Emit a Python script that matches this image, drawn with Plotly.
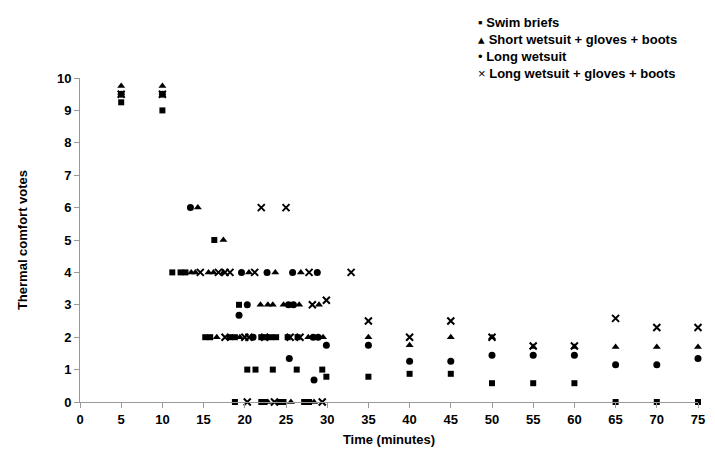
import plotly.graph_objects as go

# Swim briefs
swim_t = [5, 10, 16.3, 11.2, 12.2, 12.8, 19.3, 15.2, 15.8, 18.2, 18.8, 22.0, 22.6, 23.2, 23.8, 25.2, 26.4,
          20.3, 21.3, 23.4, 26.3, 29.4, 29.9, 18.8, 22.0, 22.4, 24.2, 24.7, 27.2, 27.8,
          35, 40, 45, 50, 55, 60, 65, 70, 75]
swim_v = [9.25, 9.0, 5, 4, 4, 4, 3, 2, 2, 2, 2, 2, 2, 2, 2, 2, 2,
          1, 1, 1, 1, 1, 0.78, 0, 0, 0, 0, 0, 0, 0,
          0.78, 0.87, 0.87, 0.58, 0.58, 0.58, 0, 0, 0]

# Short wetsuit + gloves + boots
short_t = [5, 10, 14.3, 17.4, 13.5, 14.0, 15.6, 16.2, 17.4, 20.5, 23.7, 26.8,
           21.9, 22.8, 23.4, 24.7, 26.6, 29.0, 16.6, 19.4, 27.7, 29.5,
           22.8, 25.6, 28.4, 35, 40, 45, 50, 55, 60, 65, 70, 75]
short_v = [9.75, 9.75, 6, 5, 4, 4, 4, 4, 4, 4, 4, 4,
           3, 3, 3, 3, 3, 3, 2, 2, 2, 2,
           0, 0, 0, 2.0, 1.75, 2.0, 2.0, 1.7, 1.7, 1.7, 1.7, 1.7]

# Long wetsuit
long_t = [5, 10, 13.4, 19.6, 22.7, 25.8, 28.8, 20.3, 25.3, 25.9, 19.3, 21.0, 28.3, 28.9,
          29.9, 25.4, 28.4, 35, 40, 45, 50, 55, 60, 65, 70, 75]
long_v = [9.5, 9.5, 6, 4, 4, 4, 4, 3, 3, 3, 2.68, 2, 2, 2,
          1.75, 1.34, 0.68, 1.75, 1.26, 1.26, 1.44, 1.44, 1.44, 1.15, 1.15, 1.34]

# Long wetsuit + gloves + boots
lgb_t = [5, 10, 22.0, 25.0, 14.6, 16.8, 18.2, 17.6, 21.2, 27.8, 32.9, 28.2, 29.9,
         17.6, 20.0, 20.5, 22.4, 25.5, 26.7, 20.3, 23.6, 29.4,
         35, 40, 45, 50, 55, 60, 65, 70, 75]
lgb_v = [9.5, 9.5, 6, 6, 4, 4, 4, 4, 4, 4, 4, 3, 3.14,
         2, 2, 2, 2, 2, 2, 0, 0, 0,
         2.5, 2.0, 2.5, 2.0, 1.73, 1.73, 2.58, 2.3, 2.3]

series_names = ["Swim briefs", "Short wetsuit + gloves + boots", "Long wetsuit",
                "Long wetsuit + gloves + boots"]
legend_symbols = ["\u25aa", "\u25b4", "\u2022", "\u00d7"]
x_ticks = list(range(0, 80, 5))
y_ticks = list(range(0, 11))

FONT = "Liberation Sans, Arial, sans-serif"
fig = go.Figure()
styles = [
    dict(symbol="square", size=6),
    dict(symbol="triangle-up", size=7),
    dict(symbol="circle", size=7),
    dict(symbol="x-thin", size=7, line=dict(width=2, color="black")),
]
for name, t, v, st in zip(series_names, [swim_t, short_t, long_t, lgb_t],
                          [swim_v, short_v, long_v, lgb_v], styles):
    fig.add_trace(go.Scatter(x=t, y=v, mode="markers", name=name,
                             marker=dict(color="black", **st), cliponaxis=False,
                             showlegend=False))

for i, (sym, name) in enumerate(zip(legend_symbols, series_names)):
    fig.add_annotation(x=0.64, y=1.0 + (56 - 17 * i) / 325.0, xref="paper", yref="paper",
                       xanchor="left", yanchor="middle", showarrow=False,
                       text=f"{sym} <b>{name}</b>", font=dict(family=FONT, size=13, color="black"))

fig.update_layout(
    width=715, height=455,
    margin=dict(l=80, r=10, t=78, b=52),
    paper_bgcolor="white", plot_bgcolor="white",
    font=dict(family=FONT, size=12, color="black"),
)
axis_common = dict(showgrid=False, zeroline=False, showline=True, linecolor="#999999",
                   linewidth=1, ticks="outside", tickcolor="#999999", ticklen=5,
                   tickfont=dict(family=FONT, size=13, color="black", weight="bold"))
fig.update_xaxes(range=[0, 75], tickvals=x_ticks, ticktext=[str(x) for x in x_ticks],
                 title=dict(text="<b>Time (minutes)</b>", font=dict(size=13), standoff=9),
                 **axis_common)
fig.update_yaxes(range=[0, 10], tickvals=y_ticks, ticktext=[str(y) for y in y_ticks],
                 title=dict(text="<b>Thermal comfort votes</b>", font=dict(size=13), standoff=26),
                 **axis_common)
fig.write_html("out.html")
